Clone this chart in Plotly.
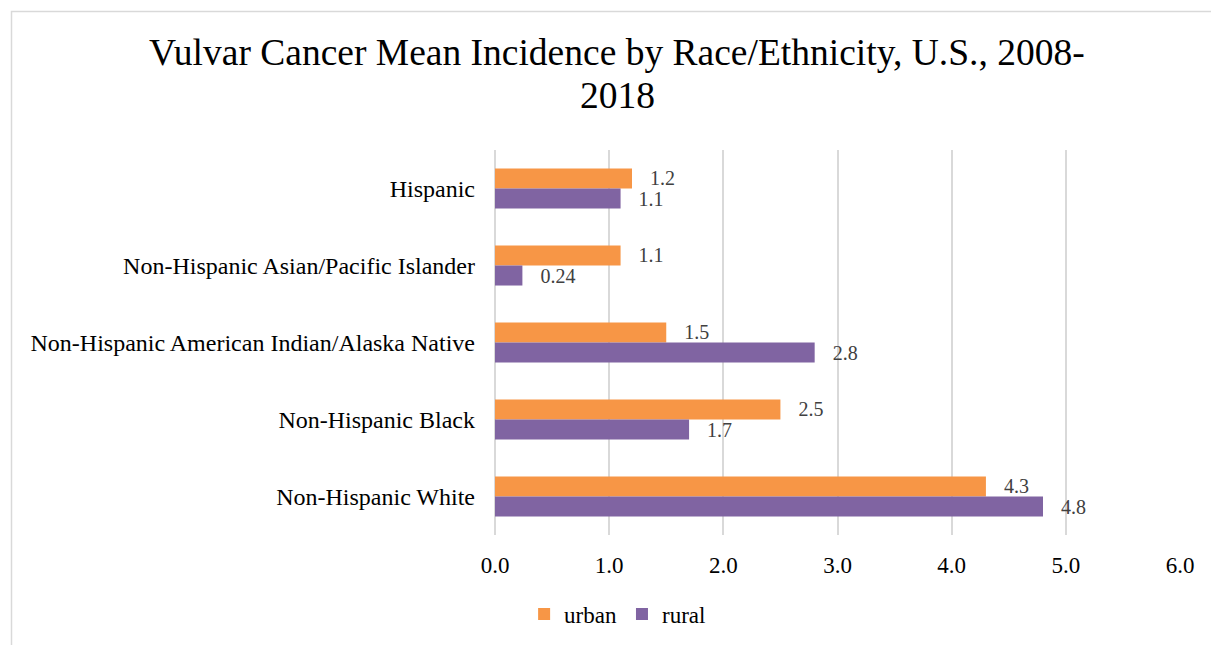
import plotly.graph_objects as go

categories = ["Hispanic", "Non-Hispanic Asian/Pacific Islander",
              "Non-Hispanic American Indian/Alaska Native",
              "Non-Hispanic Black", "Non-Hispanic White"]
urban = [1.2, 1.1, 1.5, 2.5, 4.3]
rural = [1.1, 0.24, 2.8, 1.7, 4.8]
urban_labels = ["1.2", "1.1", "1.5", "2.5", "4.3"]
rural_labels = ["1.1", "0.24", "2.8", "1.7", "4.8"]
x_ticks = [0, 1, 2, 3, 4, 5, 6]
x_tick_labels = ["0.0", "1.0", "2.0", "3.0", "4.0", "5.0", "6.0"]
title_lines = ["Vulvar Cancer Mean Incidence by Race/Ethnicity, U.S., 2008-", "2018"]

FONT = "Liberation Serif, Times New Roman, serif"

fig = go.Figure()
fig.add_trace(go.Bar(
    y=categories, x=urban, name="urban", orientation="h",
    marker=dict(color="#F79646", line=dict(width=0)),
    text=urban_labels, texttemplate="   %{text}", textposition="outside",
    cliponaxis=False, constraintext="none",
    textfont=dict(family=FONT, size=20, color="#404040"),
))
fig.add_trace(go.Bar(
    y=categories, x=rural, name="rural", orientation="h",
    marker=dict(color="#8064A2", line=dict(width=0)),
    text=rural_labels, texttemplate="   %{text}", textposition="outside",
    cliponaxis=False, constraintext="none",
    textfont=dict(family=FONT, size=20, color="#404040"),
))

L, R, T, B = 495, 31, 150, 110
W, H = 1211, 645
pw, ph = W - L - R, H - T - B

def px(xp):
    return (xp - L) / pw

def py(yp):
    return (H - B - yp) / ph

title_y = [52.5, 95.5]
annotations = [
    dict(text=t, xref="paper", yref="paper", x=px(617), y=py(yy),
         xanchor="center", yanchor="middle", showarrow=False,
         font=dict(family=FONT, size=37.5, color="black"))
    for t, yy in zip(title_lines, title_y)
]

fig.update_layout(
    width=W, height=H,
    margin=dict(l=L, r=R, t=T, b=B),
    paper_bgcolor="white", plot_bgcolor="white",
    font=dict(family=FONT, color="black"),
    annotations=annotations,
    barmode="group", bargap=0.48, bargroupgap=0,
    showlegend=True,
    legend=dict(
        orientation="h", xref="container", yref="container",
        x=0.51, xanchor="center", y=(H - 614) / H, yanchor="middle",
        font=dict(family=FONT, size=23, color="black"),
        traceorder="normal", itemwidth=30,
    ),
    xaxis=dict(
        range=[0, 6], tickvals=x_ticks, ticktext=x_tick_labels,
        showgrid=True, gridcolor="#D9D9D9", gridwidth=2,
        zeroline=True, zerolinecolor="#D9D9D9", zerolinewidth=2,
        showline=False, ticks="",
        tickfont=dict(family=FONT, size=23, color="black"),
        ticklabelstandoff=14,
    ),
    yaxis=dict(
        autorange="reversed", showgrid=False, showline=False, ticks="",
        tickfont=dict(family=FONT, size=24, color="black"),
        ticklabelstandoff=19,
    ),
    shapes=[dict(
        type="path", xref="paper", yref="paper",
        path=f"M {px(11.5)} {py(H + 5)} L {px(11.5)} {py(11.5)} L {px(W + 5)} {py(11.5)}",
        line=dict(color="#D9D9D9", width=1.5),
    )],
)

fig.write_html("out.html")
